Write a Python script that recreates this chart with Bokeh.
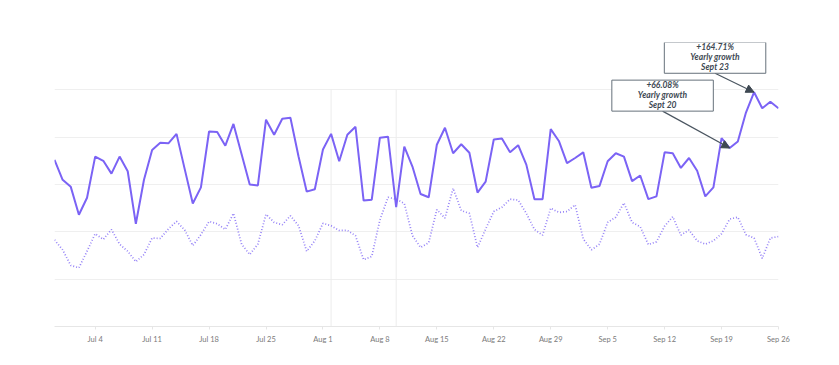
from datetime import datetime, timedelta
import pandas as pd
from bokeh.plotting import figure
from bokeh.models import (ColumnDataSource, FixedTicker, Label, Arrow, NormalHead,
                          Range1d)
from bokeh.embed import file_html
from bokeh.resources import INLINE

# ---------------- data ----------------
start_date = "2023-06-29"
end_date = "2023-09-26"

this_year = [352, 310, 295, 236, 272, 359, 350, 323, 359, 328,
             217, 310, 373, 388, 387, 407, 333, 260, 294, 412,
             411, 382, 428, 364, 300, 298, 437, 405, 439, 441,
             359, 285, 290, 374, 407, 349, 405, 422, 266, 268,
             399, 401, 252, 380, 338, 280, 273, 384, 420, 366,
             385, 367, 283, 306, 395, 397, 368, 383, 342, 269,
             269, 417, 392, 345, 356, 368, 293, 297, 349, 366,
             359, 307, 319, 269, 275, 368, 366, 335, 356, 329,
             275, 294, 398, 377, 391, 452, 495, 461, 475, 461]

last_year = [183, 162, 129, 124, 159, 196, 184, 205, 174, 159,
             137, 152, 187, 186, 206, 222, 204, 171, 194, 222,
             217, 205, 239, 174, 152, 174, 237, 220, 215, 234,
             213, 159, 181, 218, 213, 203, 203, 192, 141, 148,
             225, 273, 269, 260, 192, 167, 177, 247, 229, 292,
             245, 239, 167, 206, 243, 252, 269, 267, 239, 205,
             193, 250, 241, 243, 257, 185, 162, 174, 220, 231,
             261, 220, 211, 173, 179, 212, 232, 193, 204, 181,
             174, 181, 196, 227, 231, 194, 187, 144, 187, 190]

tick_dates = ["2023-07-04", "2023-07-11", "2023-07-18", "2023-07-25",
              "2023-08-01", "2023-08-08", "2023-08-15", "2023-08-22",
              "2023-08-29", "2023-09-05", "2023-09-12", "2023-09-19",
              "2023-09-26"]
tick_labels = ["Jul 4", "Jul 11", "Jul 18", "Jul 25", "Aug 1", "Aug 8",
               "Aug 15", "Aug 22", "Aug 29", "Sep 5", "Sep 12", "Sep 19",
               "Sep 26"]

marker_dates = ["2023-08-02", "2023-08-10"]

annotations = [
    {"date": "2023-09-20", "text": "+66.08%\nYearly growth\nSept 20"},
    {"date": "2023-09-23", "text": "+164.71%\nYearly growth\nSept 23"},
]
# offsets of each annotation box (bottom centre) from its point
ann_offsets = [(-8.25, 78), (-4.8, 40)]  # (days, value units)

y_grid = [100, 200, 300, 400, 500]

# ---------------- build ----------------
dates = pd.date_range(start_date, end_date, freq="D")
src = ColumnDataSource(dict(date=dates, cur=this_year, prev=last_year))

def ms(d):
    return pd.Timestamp(d).value / 1e6

p = figure(width=823, height=349, x_axis_type="datetime",
           output_backend="svg", toolbar_location=None,
           x_range=Range1d(ms(start_date), ms(end_date)),
           y_range=Range1d(0, 600),
           min_border_left=54, min_border_right=45,
           min_border_top=42, min_border_bottom=23)
p.outline_line_color = None
p.background_fill_color = "white"
p.border_fill_color = "white"

p.yaxis.visible = False
p.xgrid.visible = False
p.ygrid.ticker = FixedTicker(ticks=y_grid)
p.ygrid.grid_line_color = "#efefef"
p.ygrid.grid_line_width = 1

# event marker lines
for d in marker_dates:
    p.segment(x0=[pd.Timestamp(d)], y0=[0], x1=[pd.Timestamp(d)], y1=[max(y_grid)],
              line_color="#ececec", line_width=1)

p.line("date", "prev", source=src, line_color="#8a74f6", line_width=1.7,
       line_dash="1 2", line_alpha=0.9)
p.line("date", "cur", source=src, line_color="#7b63f5", line_width=2)

# x axis
xa = p.xaxis[0]
xa.ticker = FixedTicker(ticks=[ms(d) for d in tick_dates])
xa.major_label_overrides = {ms(d): lab for d, lab in zip(tick_dates, tick_labels)}
xa.axis_line_color = "#e6e6e6"
xa.major_tick_line_color = "#e6e6e6"
xa.major_tick_out = 3
xa.major_tick_in = 0
xa.minor_tick_line_color = None
xa.major_label_text_font = "Lato"
xa.major_label_text_font_size = "7.5px"
xa.major_label_text_color = "#7a7a7a"
xa.major_label_standoff = 5

# annotations
idx = {d.strftime("%Y-%m-%d"): i for i, d in enumerate(dates)}
for ann, (ddays, dval) in zip(annotations, ann_offsets):
    i = idx[ann["date"]]
    px = dates[i]
    py = this_year[i]
    sx = px + timedelta(days=ddays)
    sy = py + dval
    p.add_layout(Arrow(end=NormalHead(size=8, fill_color="#3e4852",
                                      line_color="#3e4852"),
                       x_start=ms(sx), y_start=sy, x_end=ms(px), y_end=py,
                       line_color="#4a5560", line_width=1.2))
    p.add_layout(Label(x=ms(sx), y=sy, text=ann["text"],
                       text_align="center", text_baseline="bottom",
                       text_font="Lato", text_font_style="bold italic",
                       text_font_size="8.5px", text_color="#3d4852",
                       text_line_height=1.0,
                       background_fill_color="white",
                       border_line_color="#66717b", border_line_width=1,
                       padding=dict(left=26, right=26, top=0, bottom=1)))

open("out.html", "w").write(file_html(p, INLINE))
